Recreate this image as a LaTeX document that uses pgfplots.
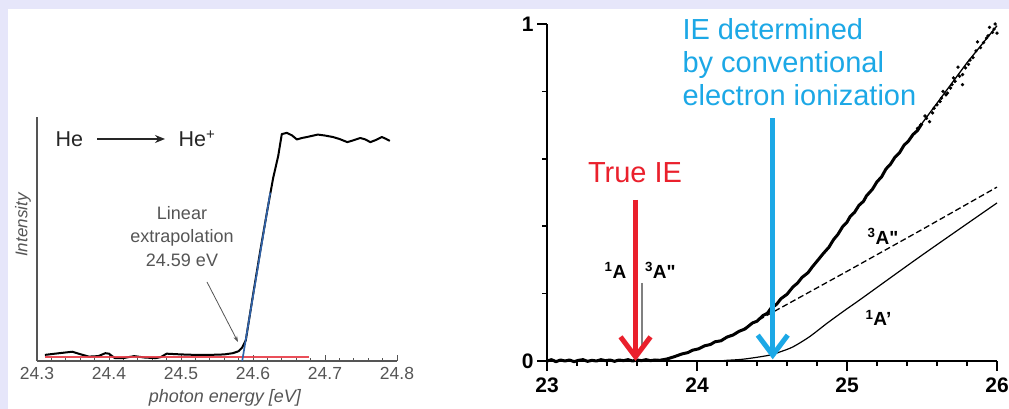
\documentclass[border=0pt]{standalone}
\usepackage{pgfplots}
\pgfplotsset{compat=1.18}
\usepackage{fontspec}
\setmainfont{Liberation Sans}
\usetikzlibrary{arrows.meta}
\definecolor{bgl}{RGB}{230,230,250}
\definecolor{iered}{RGB}{234,32,44}
\definecolor{ieblue}{RGB}{28,168,230}
\definecolor{fitblue}{RGB}{48,98,168}
\definecolor{basered}{RGB}{232,60,72}
\definecolor{lgray}{RGB}{85,85,85}
\begin{document}
\begin{tikzpicture}[x=1pt,y=1pt]
\useasboundingbox (0,0) rectangle (1009,409);
\fill[bgl] (0,0) rectangle (1009,409);
\fill[white] (8,0) rectangle (1009,400);
% ---------------- left panel ----------------
\begin{axis}[
  at={(37pt,48pt)}, anchor=south west,
  scale only axis, width=360pt, height=244pt,
  xmin=24.3, xmax=24.8, ymin=0, ymax=1,
  axis x line*=bottom, axis y line*=left,
  axis line style={lgray, line width=1.1pt, -},
  xtick={24.3,24.4,24.5,24.6,24.7,24.8}, ytick=\empty,
  minor x tick num=4,
  tick align=inside, major tick length=6pt, minor tick length=3pt,
  tick style={lgray, line width=0.8pt},
  /pgf/number format/assume math mode=true,
  xticklabel style={/pgf/number format/fixed, /pgf/number format/precision=1,
    /pgf/number format/fixed zerofill, font=\fontsize{17.5}{19}\selectfont, text=lgray, yshift=-3pt},
  xlabel={\itshape photon energy [eV]},
  xlabel style={at={(axis description cs:0.522,-0.17)}, anchor=base, font=\fontsize{18}{20}\selectfont, text=lgray},
  ylabel={\itshape Intensity},
  ylabel style={at={(axis description cs:-0.039,0.557)}, anchor=center, rotate=0, font=\fontsize{17}{19}\selectfont, text=lgray},
  clip=false,
]
\addplot[black, line width=2pt, line join=round] coordinates {
(24.311,0.025) (24.325,0.03) (24.34,0.035) (24.349,0.038) (24.36,0.028) (24.372,0.018)
(24.385,0.02) (24.395,0.032) (24.4,0.03) (24.408,0.012) (24.42,0.012) (24.435,0.02)
(24.45,0.014) (24.465,0.012) (24.472,0.016) (24.48,0.03) (24.5,0.027) (24.52,0.025)
(24.54,0.025) (24.56,0.027) (24.572,0.032) (24.58,0.04) (24.585,0.055) (24.59,0.085)
(24.6,0.27) (24.61,0.45) (24.62,0.62) (24.628,0.75) (24.635,0.84) (24.64,0.93)
(24.647,0.935) (24.654,0.925) (24.661,0.908) (24.668,0.914) (24.675,0.918) (24.69,0.928)
(24.7,0.924) (24.711,0.918) (24.72,0.91) (24.731,0.897) (24.74,0.905) (24.749,0.914)
(24.756,0.908) (24.763,0.897) (24.77,0.905) (24.779,0.918) (24.785,0.91) (24.79,0.902)
};
\addplot[basered, line width=2pt, opacity=0.9] coordinates {(24.311,0.016) (24.678,0.016)};
\addplot[fitblue, line width=1.7pt] coordinates {(24.585,0) (24.624,0.69)};
\end{axis}
% ---------------- right panel ----------------
\begin{axis}[
  at={(547pt,48pt)}, anchor=south west,
  scale only axis, width=450pt, height=337pt,
  xmin=23, xmax=26, ymin=0, ymax=1,
  axis x line*=bottom, axis y line*=left,
  axis line style={black, line width=1.8pt, -},
  xtick={23,24,25,26}, minor x tick num=4,
  ytick={0,1}, minor ytick={0.2,0.4,0.6,0.8},
  tick align=outside, major tick length=10pt, minor tick length=5pt,
  tick style={black, line width=1.5pt},
  /pgf/number format/assume math mode=true,
  ticklabel style={font=\bfseries\fontsize{21}{23}\selectfont},
  xticklabel style={yshift=-3pt},
  clip=false,
]
% component 1A'
\addplot[black, line width=1.2pt, smooth] coordinates {
(23.6,0) (24.1,0.0) (24.2,0.002) (24.3,0.005) (24.4,0.011) (24.49,0.018) (24.56,0.028)
(24.64,0.042) (24.75,0.072) (24.87,0.113) (25.0,0.155) (25.09,0.183) (25.5,0.314) (26.0,0.469)};
% component 3A''
\addplot[black, line width=1.3pt, dash pattern=on 6pt off 3pt] coordinates {
(24.2,0.071) (24.3,0.093) (24.42,0.124) (24.6,0.168) (24.8,0.217) (25.0,0.266) (25.5,0.390) (26.0,0.516)};
% experimental curve
\addplot[black, line width=3pt, line join=round] coordinates {
(23.00,0.000) (23.03,0.004) (23.06,-0.002) (23.09,0.003) (23.12,0.000) (23.15,0.003)
(23.18,-0.002) (23.21,0.002) (23.24,0.004) (23.27,-0.001) (23.30,0.002) (23.33,0.000)
(23.36,0.004) (23.39,0.001) (23.42,0.003) (23.45,-0.001) (23.48,0.003) (23.51,0.001)
(23.54,0.004) (23.57,0.000) (23.60,0.003) (23.63,0.001) (23.66,0.004) (23.69,0.001)
(23.72,0.003) (23.75,0.002) (23.80,0.006) (23.85,0.013)
(23.90,0.021) (23.94,0.025) (23.97,0.032) (24.01,0.036) (24.05,0.045) (24.09,0.049) (24.12,0.057)
(24.16,0.060) (24.20,0.071) (24.24,0.077) (24.28,0.088) (24.32,0.095) (24.37,0.113) (24.40,0.118)
(24.44,0.135) (24.47,0.142) (24.49,0.155) (24.53,0.168) (24.56,0.185) (24.60,0.198) (24.64,0.220)
(24.67,0.231) (24.70,0.248) (24.74,0.262) (24.77,0.280) (24.80,0.296) (24.84,0.318) (24.88,0.338)
(24.91,0.360) (24.94,0.376) (24.97,0.398) (25.00,0.412) (25.02,0.428) (25.05,0.441) (25.08,0.462)
(25.11,0.474) (25.13,0.490) (25.17,0.510) (25.20,0.532) (25.23,0.546) (25.26,0.570) (25.29,0.584)
(25.32,0.605) (25.35,0.618) (25.38,0.640) (25.41,0.653) (25.44,0.672) (25.47,0.684) (25.50,0.705)};
% fit line
\addplot[black, line width=1.3pt] coordinates {(25.45,0.675) (25.6,0.765) (25.8,0.885) (26.0,0.995)};
% scattered data points
\addplot[only marks, mark=*, mark size=1.5pt, black] coordinates {
(25.987,1.0) (26.0,0.973) (25.95,0.99) (25.87,0.947) (25.89,0.93) (25.93,0.958)
(25.82,0.893) (25.74,0.872) (25.77,0.85) (25.71,0.84) (25.70,0.82) (25.77,0.82)
(25.64,0.80) (25.63,0.78) (25.57,0.736) (25.55,0.71) (25.49,0.70) (25.47,0.69)
(25.52,0.727) (25.60,0.76) (25.67,0.795) (25.84,0.90) (25.97,0.975) (25.53,0.72)
(25.58,0.75) (25.62,0.77) (25.66,0.79) (25.69,0.81) (25.72,0.83) (25.75,0.845)
(25.79,0.87) (25.81,0.88) (25.86,0.92) (25.91,0.945) (25.94,0.965) (25.98,0.985)};
% state labels
\node[anchor=base east, font=\bfseries\fontsize{19}{20}\selectfont] at (axis cs:23.552,0.246) {\textsuperscript{1}A};
\node[anchor=base west, font=\bfseries\fontsize{19}{20}\selectfont] at (axis cs:23.63,0.246) {\textsuperscript{3}A\textquotedbl};
\node[anchor=base, font=\bfseries\fontsize{19}{20}\selectfont] at (axis cs:25.24,0.347) {\textsuperscript{3}A\textquotedbl};
\node[anchor=base, font=\bfseries\fontsize{19}{20}\selectfont] at (axis cs:25.21,0.104) {\textsuperscript{1}A'};
\draw[gray, line width=1.5pt] (axis cs:23.633,0.232) -- (axis cs:23.633,0.04);
% arrows
\draw[iered, line width=5pt, -{Straight Barb[length=20pt,width=30pt]}] (axis cs:23.59,0.478) -- (axis cs:23.59,0.0);
\draw[ieblue, line width=5pt, -{Straight Barb[length=20pt,width=30pt]}] (axis cs:24.505,0.72) -- (axis cs:24.505,0.005);
\end{axis}
% ---------------- annotations ----------------
\node[anchor=base west, font=\fontsize{21.5}{24}\selectfont, text=black!85] at (52,262) {He};
\draw[black!85, line width=2pt, -{Stealth[length=10pt,width=8pt]}] (97,270) -- (165,270);
\node[anchor=base west, font=\fontsize{21.5}{24}\selectfont, text=black!85] at (175,262) {He\textsuperscript{+}};
\node[anchor=base, font=\fontsize{18}{20}\selectfont, text=lgray] at (182,189) {Linear};
\node[anchor=base, font=\fontsize{18}{20}\selectfont, text=lgray] at (182,166) {extrapolation};
\node[anchor=base, font=\fontsize{18}{20}\selectfont, text=lgray] at (182,142) {24.59 eV};
\draw[lgray, line width=0.8pt, -{Stealth[length=6pt,width=4pt]}] (207,127) -- (238,67);
\node[anchor=base, font=\fontsize{29}{31}\selectfont, text=iered] at (635,226) {True IE};
\node[anchor=base west, font=\fontsize{29}{31}\selectfont, text=ieblue] at (679,369.5) {IE determined};
\node[anchor=base west, font=\fontsize{29}{31}\selectfont, text=ieblue] at (679,336) {by conventional};
\node[anchor=base west, font=\fontsize{29}{31}\selectfont, text=ieblue] at (679,303) {electron ionization};
\end{tikzpicture}
\end{document}
